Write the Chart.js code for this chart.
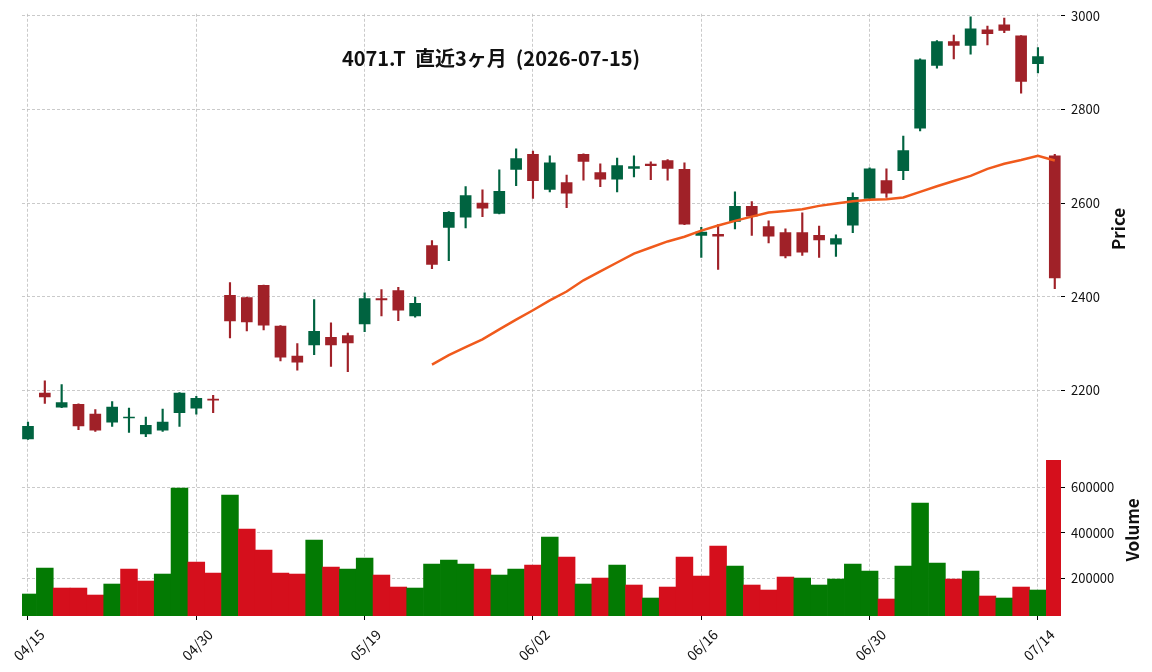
<!DOCTYPE html>
<html>
<head>
<meta charset="utf-8">
<script src="https://cdn.jsdelivr.net/npm/chart.js@4.4.1/dist/chart.umd.min.js"></script>
<style>
  html, body { margin: 0; padding: 0; background: #fff; }
  #wrap { width: 1152px; height: 672px; }
</style>
</head>
<body>
<div id="wrap"><canvas id="grafico" width="1152" height="672"></canvas></div>
<script>
// Datos (4071.T, últimos 3 meses)
const fechas = [
  '04/15', '04/16', '04/17', '04/20', '04/21', '04/22', '04/23', '04/24', '04/27', '04/28',
  '04/30', '05/01', '05/07', '05/08', '05/11', '05/12', '05/13', '05/14', '05/15', '05/18',
  '05/19', '05/20', '05/21', '05/22', '05/25', '05/26', '05/27', '05/28', '05/29', '06/01',
  '06/02', '06/03', '06/04', '06/05', '06/08', '06/09', '06/10', '06/11', '06/12', '06/15',
  '06/16', '06/17', '06/18', '06/19', '06/22', '06/23', '06/24', '06/25', '06/26', '06/29',
  '06/30', '07/01', '07/02', '07/03', '07/06', '07/07', '07/08', '07/09', '07/10', '07/13',
  '07/14', '07/15'
];
const apertura = [
  2096, 2194, 2164, 2170, 2149, 2132, 2141, 2107, 2115, 2152,
  2162, 2181, 2403, 2398, 2424, 2337, 2273, 2297, 2313, 2317,
  2342, 2396, 2413, 2359, 2509, 2548, 2570, 2600, 2578, 2672,
  2704, 2629, 2644, 2704, 2665, 2651, 2674, 2683, 2691, 2672,
  2531, 2533, 2561, 2593, 2550, 2537, 2537, 2531, 2512, 2553,
  2610, 2648, 2669, 2760, 2894, 2945, 2937, 2970, 2981, 2957,
  2898, 2701
];
const maximo = [
  2132, 2220, 2212, 2171, 2159, 2176, 2162, 2143, 2160, 2195,
  2187, 2189, 2430, 2399, 2425, 2338, 2300, 2394, 2344, 2322,
  2408, 2415, 2420, 2399, 2520, 2582, 2635, 2628, 2671, 2716,
  2711, 2701, 2660, 2705, 2684, 2696, 2701, 2688, 2693, 2686,
  2548, 2554, 2624, 2603, 2562, 2545, 2579, 2551, 2532, 2622,
  2675, 2673, 2743, 2908, 2947, 2959, 2998, 2978, 2995, 2958,
  2932, 2704
];
const minimo = [
  2095, 2172, 2163, 2116, 2112, 2123, 2110, 2101, 2112, 2123,
  2149, 2152, 2312, 2327, 2329, 2263, 2243, 2276, 2251, 2240,
  2325, 2359, 2349, 2356, 2460, 2477, 2547, 2571, 2577, 2637,
  2610, 2624, 2590, 2649, 2635, 2624, 2656, 2650, 2649, 2554,
  2484, 2458, 2545, 2531, 2515, 2483, 2488, 2484, 2486, 2537,
  2609, 2612, 2650, 2754, 2888, 2908, 2918, 2938, 2964, 2835,
  2878, 2417
];
const cierre = [
  2123, 2186, 2174, 2124, 2115, 2164, 2143, 2125, 2132, 2194,
  2183, 2179, 2348, 2346, 2339, 2271, 2260, 2326, 2297, 2301,
  2396, 2393, 2371, 2386, 2469, 2580, 2616, 2589, 2625, 2695,
  2648, 2686, 2621, 2689, 2651, 2680, 2678, 2680, 2674, 2555,
  2538, 2529, 2593, 2572, 2529, 2487, 2495, 2521, 2524, 2612,
  2673, 2621, 2712, 2906, 2945, 2937, 2972, 2962, 2969, 2860,
  2913, 2440
];
const volumen = [
  129700, 244300, 156100, 156100, 125200, 173800, 239900, 187000, 217900, 597100,
  270800, 222300, 566200, 416300, 323700, 222300, 217900, 367800, 248700, 239900,
  288400, 213500, 160500, 156100, 262000, 279600, 262000, 239900, 213500, 239900,
  257600, 381000, 292800, 173800, 200200, 257600, 169400, 112000, 160500, 292800,
  209000, 341400, 253100, 169400, 147300, 204600, 200200, 169400, 195800, 262000,
  231100, 107600, 253100, 531000, 266400, 195800, 231100, 120800, 112000, 160500,
  147300, 720600
];
const media25 = [
  null, null, null, null, null, null, null, null, null, null,
  null, null, null, null, null, null, null, null, null, null,
  null, null, null, null, 2255, 2275, 2292, 2309, 2330, 2351,
  2371, 2392, 2411, 2435, 2454, 2473, 2492, 2505, 2518, 2528,
  2541, 2552, 2562, 2571, 2580, 2583, 2587, 2594, 2599, 2604,
  2607, 2608, 2612, 2624, 2636, 2647, 2658, 2673, 2684, 2692,
  2701, 2691
];
const ticksPrecio = [2200, 2400, 2600, 2800, 3000];
const ticksVolumen = [200000, 400000, 600000];
const ticksFecha = [0, 10, 20, 30, 40, 50, 60];

const VERDE = '#006340';
const ROJO = '#a02128';
const VOL_VERDE = '#037a03';
const VOL_ROJO = '#d50f1c';
const FUENTE = '"Noto Sans CJK JP", "Noto Sans", sans-serif';

const colorVela = fechas.map((f, i) => cierre[i] >= apertura[i] ? VERDE : ROJO);
const colorVol = fechas.map((f, i) => (i === 0 || cierre[i] >= cierre[i - 1]) ? VOL_VERDE : VOL_ROJO);

// Texto girado con el centro en (x, y)
function textoGirado(ctx, texto, x, y, angulo, fuente) {
    ctx.save();
    ctx.fillStyle = '#111';
    ctx.textAlign = 'center';
    ctx.textBaseline = 'middle';
    ctx.font = fuente;
    ctx.translate(x, y);
    ctx.rotate(angulo);
    ctx.fillText(texto, 0, 0);
    ctx.restore();
}

// Título, etiquetas de ejes y fechas dibujados a mano
const textosExtra = {
    id: 'textosExtra',
    afterDraw(chart) {
        const ctx = chart.ctx;
        const ejeX = chart.scales.x;
        const precio = chart.scales.y;
        const vol = chart.scales.yVol;

        ctx.save();
        ctx.fillStyle = '#111';
        ctx.textAlign = 'center';
        ctx.textBaseline = 'middle';
        ctx.font = 'bold 20px ' + FUENTE;
        ctx.fillText('4071.T  直近3ヶ月  (2026-07-15)', 491, 58);
        ctx.restore();

        textoGirado(ctx, 'Price', 1119, (precio.top + precio.bottom) / 2, -Math.PI / 2, 'bold 17px ' + FUENTE);
        textoGirado(ctx, 'Volume', 1133, (vol.top + vol.bottom) / 2, -Math.PI / 2, 'bold 17px ' + FUENTE);

        ticksFecha.forEach(i => {
            textoGirado(ctx, fechas[i], ejeX.getPixelForValue(i) + 1, 645, -Math.PI / 4, '14px ' + FUENTE);
        });
    }
};

const rejilla = {
    color: '#bdbdbd',
    lineWidth: 0.8,
    tickColor: '#000',
    tickLength: 4,
    tickWidth: 1,
    offset: false
};

Chart.defaults.font.family = FUENTE;
Chart.defaults.color = '#111';

const ctx = document.getElementById('grafico');
new Chart(ctx, {
    data: {
        datasets: [
            {
                type: 'line',
                label: 'MA25',
                data: fechas.map((f, i) => ({ x: i, y: media25[i] })),
                borderColor: '#f05a1c',
                borderWidth: 2.5,
                pointRadius: 0,
                spanGaps: false,
                yAxisID: 'y',
                order: 0
            },
            {
                type: 'bar',
                label: 'cuerpo',
                data: fechas.map((f, i) => ({ x: i, y: [apertura[i], cierre[i]] })),
                backgroundColor: colorVela,
                barThickness: 11,
                grouped: false,
                yAxisID: 'y',
                order: 1
            },
            {
                type: 'bar',
                label: 'mecha',
                data: fechas.map((f, i) => ({ x: i, y: [minimo[i], maximo[i]] })),
                backgroundColor: colorVela,
                barThickness: 1.5,
                grouped: false,
                yAxisID: 'y',
                order: 2
            },
            {
                type: 'bar',
                label: 'Volume',
                data: fechas.map((f, i) => ({ x: i, y: volumen[i] })),
                backgroundColor: colorVol,
                barPercentage: 1,
                categoryPercentage: 1,
                grouped: false,
                yAxisID: 'yVol',
                order: 3
            }
        ]
    },
    options: {
        responsive: false,
        animation: false,
        events: [],
        layout: { padding: { left: 22, top: 13, right: 0, bottom: 0 } },
        plugins: {
            legend: { display: false },
            tooltip: { enabled: false }
        },
        scales: {
            x: {
                type: 'linear',
                position: 'bottom',
                offset: false,
                min: -0.356,
                max: 61.37,
                afterBuildTicks: s => { s.ticks = ticksFecha.map(v => ({ value: v })); },
                afterFit: s => { s.height = 56; },
                ticks: { display: false },
                grid: rejilla,
                border: { display: false, dash: [3, 2] }
            },
            y: {
                type: 'linear',
                position: 'right',
                stack: 'paneles',
                stackWeight: 5,
                min: 2085.4,
                max: 3004.3,
                afterBuildTicks: s => { s.ticks = ticksPrecio.map(v => ({ value: v })); },
                afterFit: s => { s.width = 91; },
                ticks: { padding: 6, font: { size: 13 }, callback: v => String(v) },
                grid: rejilla,
                border: { display: false, dash: [3, 2] }
            },
            yVol: {
                type: 'linear',
                position: 'right',
                stack: 'paneles',
                stackWeight: 2,
                min: 32600,
                max: 792500,
                afterBuildTicks: s => { s.ticks = ticksVolumen.map(v => ({ value: v })); },
                afterFit: s => { s.width = 91; },
                ticks: { padding: 6, font: { size: 13 }, callback: v => String(v) },
                grid: rejilla,
                border: { display: false, dash: [3, 2] }
            }
        }
    },
    plugins: [textosExtra]
});
</script>
</body>
</html>
